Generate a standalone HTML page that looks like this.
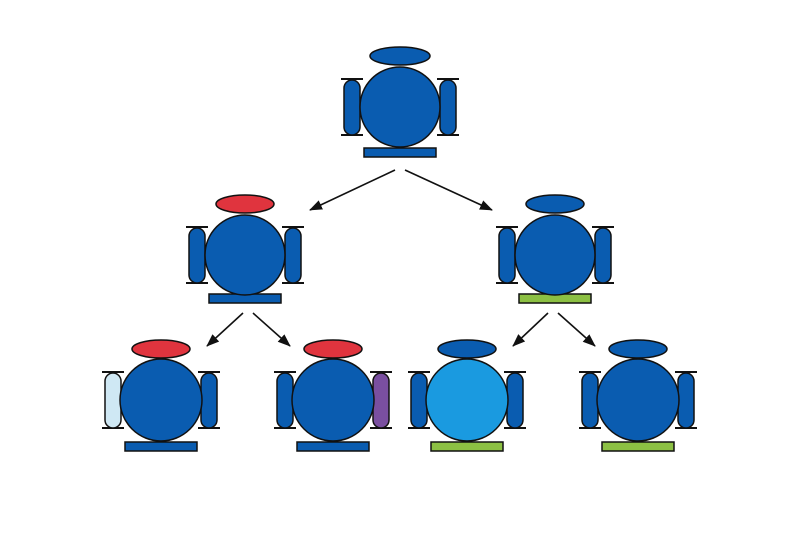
<!DOCTYPE html>
<html><head><style>body{margin:0;background:#fff}</style></head><body>
<svg width="800" height="533" viewBox="0 0 800 533" xmlns="http://www.w3.org/2000/svg">
<defs>
<marker id="a" markerWidth="13" markerHeight="10" refX="12" refY="5" orient="auto" markerUnits="userSpaceOnUse"><path d="M0,0L13,5L0,10z" fill="#111"/></marker>
<g id="ticks" stroke="#111" stroke-width="2">
<line x1="-59" y1="-28" x2="-37" y2="-28"/><line x1="-59" y1="28" x2="-37" y2="28"/>
<line x1="37" y1="-28" x2="59" y2="-28"/><line x1="37" y1="28" x2="59" y2="28"/>
</g>
</defs>
<rect width="800" height="533" fill="#fff"/>
<g stroke="#111" stroke-width="1.6">
<line x1="395" y1="170" x2="310" y2="210" marker-end="url(#a)"/>
<line x1="405" y1="170" x2="492" y2="210" marker-end="url(#a)"/>
<line x1="243" y1="313" x2="207" y2="346" marker-end="url(#a)"/>
<line x1="253" y1="313" x2="290" y2="346" marker-end="url(#a)"/>
<line x1="548" y1="313" x2="513" y2="346" marker-end="url(#a)"/>
<line x1="558" y1="313" x2="595" y2="346" marker-end="url(#a)"/>
</g>
<g stroke="#111" stroke-width="1.5">
<g transform="translate(400,107)">
<use href="#ticks"/>
<rect x="-56" y="-27" width="16" height="55" rx="8" fill="#0a5cb0"/>
<rect x="40" y="-27" width="16" height="55" rx="8" fill="#0a5cb0"/>
<rect x="-36" y="41" width="72" height="9" fill="#0a5cb0"/>
<circle r="40" fill="#0a5cb0"/>
<ellipse cy="-51" rx="30" ry="9" fill="#0a5cb0"/>
</g>
<g transform="translate(245,255)">
<use href="#ticks"/>
<rect x="-56" y="-27" width="16" height="55" rx="8" fill="#0a5cb0"/>
<rect x="40" y="-27" width="16" height="55" rx="8" fill="#0a5cb0"/>
<rect x="-36" y="39" width="72" height="9" fill="#0a5cb0"/>
<circle r="40" fill="#0a5cb0"/>
<ellipse cy="-51" rx="29" ry="9" fill="#e0343e"/>
</g>
<g transform="translate(555,255)">
<use href="#ticks"/>
<rect x="-56" y="-27" width="16" height="55" rx="8" fill="#0a5cb0"/>
<rect x="40" y="-27" width="16" height="55" rx="8" fill="#0a5cb0"/>
<rect x="-36" y="39" width="72" height="9" fill="#8cc043"/>
<circle r="40" fill="#0a5cb0"/>
<ellipse cy="-51" rx="29" ry="9" fill="#0a5cb0"/>
</g>
<g transform="translate(161,400)">
<use href="#ticks"/>
<rect x="-56" y="-27" width="16" height="55" rx="8" fill="#cfe8f4"/>
<rect x="40" y="-27" width="16" height="55" rx="8" fill="#0a5cb0"/>
<rect x="-36" y="42" width="72" height="9" fill="#0a5cb0"/>
<circle r="41" fill="#0a5cb0"/>
<ellipse cy="-51" rx="29" ry="9" fill="#e0343e"/>
</g>
<g transform="translate(333,400)">
<use href="#ticks"/>
<rect x="-56" y="-27" width="16" height="55" rx="8" fill="#0a5cb0"/>
<rect x="40" y="-27" width="16" height="55" rx="8" fill="#7a4fa0"/>
<rect x="-36" y="42" width="72" height="9" fill="#0a5cb0"/>
<circle r="41" fill="#0a5cb0"/>
<ellipse cy="-51" rx="29" ry="9" fill="#e0343e"/>
</g>
<g transform="translate(467,400)">
<use href="#ticks"/>
<rect x="-56" y="-27" width="16" height="55" rx="8" fill="#0a5cb0"/>
<rect x="40" y="-27" width="16" height="55" rx="8" fill="#0a5cb0"/>
<rect x="-36" y="42" width="72" height="9" fill="#8cc043"/>
<circle r="41" fill="#1a9ae0"/>
<ellipse cy="-51" rx="29" ry="9" fill="#0a5cb0"/>
</g>
<g transform="translate(638,400)">
<use href="#ticks"/>
<rect x="-56" y="-27" width="16" height="55" rx="8" fill="#0a5cb0"/>
<rect x="40" y="-27" width="16" height="55" rx="8" fill="#0a5cb0"/>
<rect x="-36" y="42" width="72" height="9" fill="#8cc043"/>
<circle r="41" fill="#0a5cb0"/>
<ellipse cy="-51" rx="29" ry="9" fill="#0a5cb0"/>
</g>
</g>
</svg>
</body></html>
